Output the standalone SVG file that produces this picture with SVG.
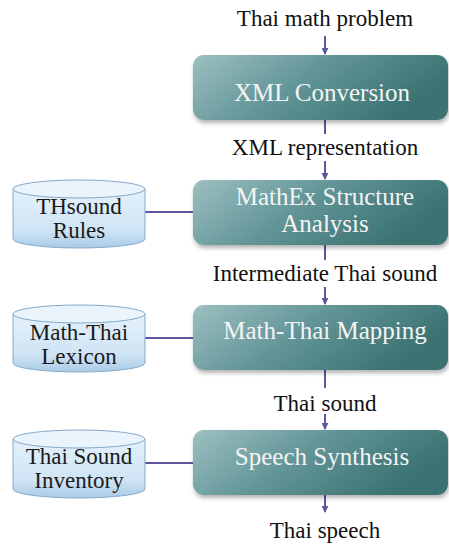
<svg xmlns="http://www.w3.org/2000/svg" width="449" height="545" viewBox="0 0 449 545">
<defs>
<linearGradient id="boxg" x1="0" y1="0" x2="1" y2="0.35">
<stop offset="0" stop-color="#9dbfc1"/>
<stop offset="0.5" stop-color="#629597"/>
<stop offset="1" stop-color="#3b7272"/>
</linearGradient>
<linearGradient id="cylg" x1="0" y1="0" x2="0" y2="1">
<stop offset="0" stop-color="#e4f1fb"/>
<stop offset="0.7" stop-color="#cfe4f5"/>
<stop offset="1" stop-color="#a9cbe6"/>
</linearGradient>
<filter id="sh" x="-10%" y="-10%" width="125%" height="135%">
<feDropShadow dx="1" dy="3" stdDeviation="2" flood-color="#000" flood-opacity="0.3"/>
</filter>
<marker id="ah" viewBox="0 0 8 8" refX="7" refY="4" markerWidth="7" markerHeight="7" markerUnits="userSpaceOnUse" orient="auto">
<path d="M0,0 L8,4 L0,8 Z" fill="#5b579b"/>
</marker>
</defs>
<style>
.box{fill:url(#boxg);filter:url(#sh);}
.bt{font-family:"Liberation Serif",serif;font-size:25px;fill:#f4f4f4;text-anchor:middle;}
.lbl{font-family:"Liberation Serif",serif;font-size:23px;fill:#111;text-anchor:middle;}
.cyl{fill:url(#cylg);stroke:#86a9c8;stroke-width:1;}
.cyltop{fill:#e9f4fc;stroke:#86a9c8;stroke-width:1;}
.ct{font-family:"Liberation Serif",serif;font-size:23px;fill:#1a1a1a;text-anchor:middle;}
.ln{stroke:#5b579b;stroke-width:2;fill:none;}
</style>

<g id="connectors">
<line class="ln" x1="325" y1="36" x2="325" y2="54" marker-end="url(#ah)"/>
<line class="ln" x1="325" y1="120" x2="325" y2="134"/>
<line class="ln" x1="325" y1="161" x2="325" y2="179" marker-end="url(#ah)"/>
<line class="ln" x1="325" y1="245" x2="325" y2="260"/>
<line class="ln" x1="325" y1="287" x2="325" y2="304" marker-end="url(#ah)"/>
<line class="ln" x1="325" y1="370" x2="325" y2="388"/>
<line class="ln" x1="325" y1="414" x2="325" y2="429" marker-end="url(#ah)"/>
<line class="ln" x1="325" y1="495" x2="325" y2="512" marker-end="url(#ah)"/>
<line class="ln" x1="145" y1="212" x2="193" y2="212"/>
<line class="ln" x1="145" y1="338" x2="193" y2="338"/>
<line class="ln" x1="145" y1="463" x2="193" y2="463"/>
</g>

<g id="labels">
<text class="lbl" x="325" y="26">Thai math problem</text>
<text class="lbl" x="325" y="155">XML representation</text>
<text class="lbl" x="325" y="281">Intermediate Thai sound</text>
<text class="lbl" x="325" y="411">Thai sound</text>
<text class="lbl" x="325" y="538">Thai speech</text>
</g>

<g id="xml-conversion">
<rect class="box" x="193" y="55" width="255" height="65" rx="11"/>
<text class="bt" x="322" y="101">XML Conversion</text>
</g>

<g id="mathex-structure-analysis">
<rect class="box" x="193" y="180" width="255" height="65" rx="11"/>
<text class="bt" x="325" y="205">MathEx Structure</text>
<text class="bt" x="325" y="232">Analysis</text>
</g>

<g id="math-thai-mapping">
<rect class="box" x="193" y="305" width="255" height="65" rx="11"/>
<text class="bt" x="325" y="339">Math-Thai Mapping</text>
</g>

<g id="speech-synthesis">
<rect class="box" x="193" y="430" width="255" height="65" rx="11"/>
<text class="bt" x="322" y="465">Speech Synthesis</text>
</g>

<g id="thsound-rules">
<path class="cyl" d="M13,189 L13,239 A66,9 0 0 0 145,239 L145,189"/>
<ellipse class="cyltop" cx="79" cy="189" rx="66" ry="9"/>
<text class="ct" x="79" y="214">THsound</text>
<text class="ct" x="79" y="238">Rules</text>
</g>

<g id="math-thai-lexicon">
<path class="cyl" d="M13,314 L13,363 A66,9 0 0 0 145,363 L145,314"/>
<ellipse class="cyltop" cx="79" cy="314" rx="66" ry="9"/>
<text class="ct" x="79" y="340">Math-Thai</text>
<text class="ct" x="79" y="364">Lexicon</text>
</g>

<g id="thai-sound-inventory">
<path class="cyl" d="M13,439 L13,489 A66,9 0 0 0 145,489 L145,439"/>
<ellipse class="cyltop" cx="79" cy="439" rx="66" ry="9"/>
<text class="ct" x="79" y="464">Thai Sound</text>
<text class="ct" x="79" y="488">Inventory</text>
</g>
</svg>
